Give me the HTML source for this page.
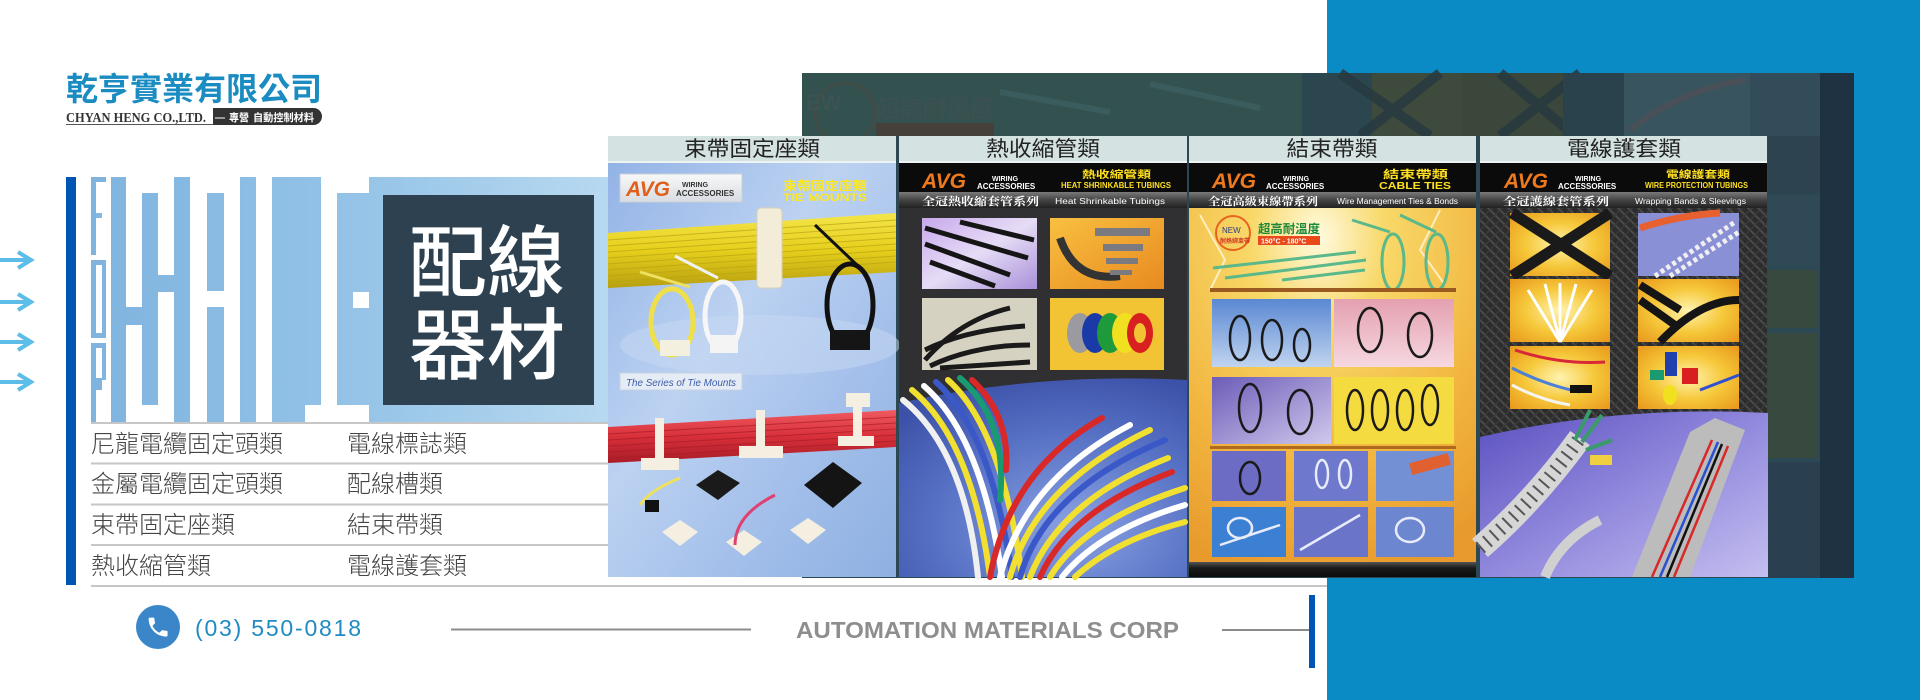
<!DOCTYPE html>
<html><head><meta charset="utf-8">
<style>
html,body{margin:0;padding:0;background:#fff;width:1920px;height:700px;overflow:hidden}
svg{display:block}
text{font-family:"Liberation Sans","Noto Sans CJK TC",sans-serif}
.sf{font-family:"Liberation Serif","Noto Serif CJK SC",serif}
</style></head><body>
<svg width="1920" height="700" viewBox="0 0 1920 700" xmlns="http://www.w3.org/2000/svg">
<defs>
<linearGradient id="gPat" x1="0" y1="0" x2="1" y2="0">
 <stop offset="0" stop-color="#7fb4df"/><stop offset="0.5" stop-color="#94c3e7"/><stop offset="1" stop-color="#b7d9f0"/>
</linearGradient>
<linearGradient id="gP1" x1="0" y1="0" x2="1" y2="1">
 <stop offset="0" stop-color="#93b3e6"/><stop offset="0.4" stop-color="#bcd2f1"/><stop offset="0.7" stop-color="#a3bfea"/><stop offset="1" stop-color="#8eb0e2"/>
</linearGradient>
<linearGradient id="gYel" x1="0" y1="0" x2="0" y2="1">
 <stop offset="0" stop-color="#f4e64a"/><stop offset="0.5" stop-color="#e6cf1c"/><stop offset="1" stop-color="#b8a010"/>
</linearGradient>
<linearGradient id="gRed" x1="0" y1="0" x2="0" y2="1">
 <stop offset="0" stop-color="#f05a60"/><stop offset="0.5" stop-color="#d8303a"/><stop offset="1" stop-color="#a81c26"/>
</linearGradient>
<linearGradient id="gBar" x1="0" y1="0" x2="0" y2="1">
 <stop offset="0" stop-color="#7a7a7a"/><stop offset="0.5" stop-color="#444"/><stop offset="1" stop-color="#222"/>
</linearGradient>
<linearGradient id="gDark" x1="0" y1="0" x2="0" y2="1">
 <stop offset="0" stop-color="#555"/><stop offset="0.4" stop-color="#1a1a1a"/><stop offset="1" stop-color="#0c0c0c"/>
</linearGradient>
<radialGradient id="gBlue" cx="0.6" cy="0.75" r="0.8">
 <stop offset="0" stop-color="#8aa2e2"/><stop offset="0.6" stop-color="#5670c4"/><stop offset="1" stop-color="#3c52a8"/>
</radialGradient>
<radialGradient id="gP3" cx="0.45" cy="0.08" r="0.95">
 <stop offset="0" stop-color="#fffbe0"/><stop offset="0.25" stop-color="#f8d868"/><stop offset="0.65" stop-color="#f2b640"/><stop offset="1" stop-color="#e89a2c"/>
</radialGradient>
<radialGradient id="gYi" cx="0.5" cy="0.5" r="0.7">
 <stop offset="0" stop-color="#fff3b0"/><stop offset="0.5" stop-color="#f6c83a"/><stop offset="1" stop-color="#e8981c"/>
</radialGradient>
<linearGradient id="gPur" x1="0" y1="0" x2="1" y2="1">
 <stop offset="0" stop-color="#5a50c0"/><stop offset="0.5" stop-color="#9088dc"/><stop offset="1" stop-color="#c4bef0"/>
</linearGradient>
<linearGradient id="gLil" x1="0" y1="0" x2="1" y2="1">
 <stop offset="0" stop-color="#c8a8ec"/><stop offset="0.5" stop-color="#e6dcf6"/><stop offset="1" stop-color="#a890d8"/>
</linearGradient>
<linearGradient id="gOr" x1="0" y1="0" x2="1" y2="1">
 <stop offset="0" stop-color="#f8c040"/><stop offset="1" stop-color="#e88a20"/>
</linearGradient>
<linearGradient id="gBi" x1="0" y1="0" x2="0" y2="1">
 <stop offset="0" stop-color="#5a88d2"/><stop offset="1" stop-color="#c0d4f0"/>
</linearGradient>
<linearGradient id="gPk" x1="0" y1="0" x2="0" y2="1">
 <stop offset="0" stop-color="#e4a0b0"/><stop offset="1" stop-color="#f6d8e0"/>
</linearGradient>
<linearGradient id="gPi" x1="0" y1="0" x2="1" y2="1">
 <stop offset="0" stop-color="#6c5cb8"/><stop offset="1" stop-color="#d0c8ec"/>
</linearGradient>
<linearGradient id="gAvg" x1="0" y1="0" x2="0" y2="1">
 <stop offset="0" stop-color="#f8f8f8"/><stop offset="1" stop-color="#d8dde2"/>
</linearGradient>
<pattern id="braid" width="10" height="10" patternUnits="userSpaceOnUse">
 <rect width="10" height="10" fill="#2c2c2c"/>
 <path d="M0,0 L10,10 M-5,5 L5,15 M5,-5 L15,5" stroke="#4a4a4a" stroke-width="2"/>
 <path d="M10,0 L0,10" stroke="#3a3a3a" stroke-width="1.5"/>
</pattern>
</defs>

<!-- right blue block -->
<rect x="1327" y="0" width="593" height="700" fill="#0a8bc5"/>

<!-- dark blurred strip -->
<rect x="802" y="73" width="1052" height="505" fill="#2c4852"/>
<rect x="802" y="73" width="500" height="63" fill="#33514f"/>
<circle cx="845" cy="113" r="30" stroke="#4e4a42" stroke-width="3" fill="none" opacity="0.6"/>
<text x="806" y="110" font-size="22" fill="#3c5353" font-weight="bold">EW</text>
<text x="876" y="117" font-size="24" fill="#3b5151" font-weight="bold" textLength="118" lengthAdjust="spacingAndGlyphs">超高耐溫度</text>
<rect x="876" y="123" width="118" height="13" fill="#45403a"/>
<path d="M1000,92 L1110,112 M1150,84 L1260,108" stroke="#3a5c5c" stroke-width="6" fill="none"/>
<rect x="1302" y="73" width="70" height="63" fill="#2c4650"/>
<rect x="1372" y="73" width="90" height="63" fill="#3e4a3c"/>
<rect x="1462" y="73" width="101" height="63" fill="#3b473a"/>
<path d="M1340,73 L1430,136 M1440,73 L1360,136 M1500,73 L1575,136 M1580,73 L1500,136" stroke="#27393f" stroke-width="10" fill="none" opacity="0.85"/>
<rect x="1563" y="73" width="61" height="63" fill="#2a424c"/>
<rect x="1624" y="73" width="126" height="63" fill="#38545f"/>
<path d="M1630,130 Q1680,90 1745,80" stroke="#4a5058" stroke-width="6" fill="none"/>
<rect x="1750" y="73" width="70" height="63" fill="#324c5a"/>
<rect x="1820" y="73" width="34" height="505" fill="#1f3242"/>
<rect x="1768" y="136" width="52" height="58" fill="#2d4450"/>
<rect x="1768" y="196" width="52" height="70" fill="#2f4a56"/>
<rect x="1768" y="270" width="50" height="58" fill="#38493f"/>
<rect x="1768" y="333" width="50" height="125" fill="#38493f"/>
<rect x="1768" y="462" width="52" height="116" fill="#2a4050"/>

<!-- left pattern block -->
<rect x="66" y="177" width="10" height="408" fill="#0055b4"/>
<rect x="91" y="177" width="517" height="245" fill="url(#gPat)"/>
<g fill="#ffffff">
 <rect x="96" y="182" width="10" height="73"/>
 <rect x="91" y="255" width="15" height="5"/>
 <rect x="96" y="265" width="6" height="68"/>
 <rect x="91" y="338" width="15" height="5"/>
 <rect x="96" y="348" width="6" height="30"/>
 <rect x="96" y="390" width="6" height="32"/>
 <rect x="102" y="380" width="4" height="42"/>
 <rect x="106" y="177" width="5" height="245"/>
 <rect x="126" y="177" width="16" height="130"/>
 <rect x="126" y="325" width="16" height="97"/>
 <rect x="142" y="177" width="16" height="16"/>
 <rect x="142" y="405" width="16" height="17"/>
 <rect x="158" y="177" width="16" height="98"/>
 <rect x="158" y="292" width="16" height="130"/>
 <rect x="190" y="177" width="17" height="245"/>
 <rect x="207" y="177" width="17" height="16"/>
 <rect x="207" y="291" width="17" height="16"/>
 <rect x="224" y="177" width="16" height="245"/>
 <rect x="256" y="177" width="16" height="245"/>
 <rect x="305" y="405" width="16" height="17"/>
 <rect x="321" y="177" width="16" height="245"/>
 <rect x="337" y="177" width="32" height="16"/>
 <rect x="353" y="292" width="16" height="16"/>
 <rect x="337" y="405" width="32" height="17"/>
</g>
<rect x="96" y="213" width="6" height="5" fill="#85b7e0"/>

<!-- dark title box -->
<rect x="383" y="195" width="211" height="210" fill="#2d4150"/>
<text x="409" y="290" font-size="78" fill="#ffffff" font-weight="500">配線</text>
<text x="409" y="373" font-size="78" fill="#ffffff" font-weight="500">器材</text>

<!-- logo -->
<text x="66" y="100" font-size="32" font-weight="bold" fill="#1a8cc1" textLength="256" lengthAdjust="spacingAndGlyphs">乾亨實業有限公司</text>
<text class="sf" x="66" y="122" font-size="14" font-weight="bold" fill="#333" textLength="140" lengthAdjust="spacingAndGlyphs">CHYAN HENG CO.,LTD.</text>
<line x1="66" y1="124.5" x2="214" y2="124.5" stroke="#555" stroke-width="1"/>
<path d="M213,108 H313.5 A8.5,8.5 0 0 1 313.5,125 H213 Z" fill="#333"/>
<text x="215" y="120.5" font-size="10" fill="#fff" font-weight="bold">—</text>
<text x="229" y="121" font-size="10.5" fill="#fff" font-weight="bold" textLength="20" lengthAdjust="spacingAndGlyphs">專營</text>
<text x="253" y="121" font-size="10.5" fill="#fff" font-weight="bold" textLength="61" lengthAdjust="spacingAndGlyphs">自動控制材料</text>

<!-- arrows -->
<g stroke="#5cbde8" stroke-width="4" fill="none">
 <path d="M0,260 H30 M18,252 L31,260 L18,268"/>
 <path d="M0,302 H30 M18,294 L31,302 L18,310"/>
 <path d="M0,342 H30 M18,334 L31,342 L18,350"/>
 <path d="M0,382 H30 M18,374 L31,382 L18,390"/>
</g>

<!-- list -->
<g stroke="#c6c6c6" stroke-width="2">
 <line x1="91" y1="423" x2="608" y2="423"/>
 <line x1="91" y1="463.5" x2="608" y2="463.5"/>
 <line x1="91" y1="504.5" x2="608" y2="504.5"/>
 <line x1="91" y1="545" x2="608" y2="545"/>
 <line x1="91" y1="586" x2="1327" y2="586"/>
</g>
<g font-size="24" fill="#444" font-weight="300">
 <text x="91" y="452">尼龍電纜固定頭類</text>
 <text x="347" y="452">電線標誌類</text>
 <text x="91" y="492">金屬電纜固定頭類</text>
 <text x="347" y="492">配線槽類</text>
 <text x="91" y="533">束帶固定座類</text>
 <text x="347" y="533">結束帶類</text>
 <text x="91" y="574">熱收縮管類</text>
 <text x="347" y="574">電線護套類</text>
</g>

<!-- ===== PANEL 1 ===== -->
<rect x="608" y="136" width="288" height="25" fill="#d5e2e2"/>
<rect x="608" y="161" width="288" height="2" fill="#eef3f3"/>
<text x="752" y="156" font-size="21" fill="#222" text-anchor="middle" textLength="136" lengthAdjust="spacingAndGlyphs">束帶固定座類</text>
<rect x="608" y="163" width="288" height="414" fill="url(#gP1)"/>
<ellipse cx="760" cy="345" rx="140" ry="30" fill="#c8d9f3" opacity="0.5"/>
<rect x="620" y="174" width="122" height="28" fill="url(#gAvg)" stroke="#c8d0d8"/>
<text x="626" y="196" font-size="21" font-weight="bold" font-style="italic" fill="#e0601a">AVG</text>
<text x="682" y="187" font-size="7" font-weight="bold" fill="#333">WIRING</text>
<text x="676" y="196" font-size="8" font-weight="bold" fill="#333">ACCESSORIES</text>
<text x="783" y="190" font-size="12" font-weight="bold" fill="#ffe81a" textLength="84" lengthAdjust="spacingAndGlyphs">束帶固定座類</text>
<text x="783" y="201" font-size="11" font-weight="bold" fill="#ffe81a" textLength="84" lengthAdjust="spacingAndGlyphs">TIE  MOUNTS</text>
<polygon points="608,233 896,213 896,272 608,288" fill="url(#gYel)"/>
<g stroke="#b8a412" stroke-width="1" opacity="0.7">
 <line x1="608" y1="240" x2="896" y2="220"/><line x1="608" y1="246" x2="896" y2="226"/>
 <line x1="608" y1="252" x2="896" y2="232"/><line x1="608" y1="258" x2="896" y2="238"/>
 <line x1="608" y1="264" x2="896" y2="244"/><line x1="608" y1="270" x2="896" y2="250"/>
 <line x1="608" y1="276" x2="896" y2="256"/><line x1="608" y1="282" x2="896" y2="262"/>
</g>
<rect x="757" y="208" width="25" height="80" rx="4" fill="#f2ecd8" stroke="#d8d0b8"/>
<path d="M640,272 L690,287" stroke="#eee060" stroke-width="3"/>
<ellipse cx="672" cy="322" rx="21" ry="33" stroke="#efe04a" stroke-width="5" fill="none"/>
<rect x="660" y="340" width="30" height="16" fill="#f4f0e0"/>
<path d="M675,256 L718,278" stroke="#f0f0f0" stroke-width="3"/>
<ellipse cx="723" cy="316" rx="18" ry="34" stroke="#f6f6f6" stroke-width="5" fill="none"/>
<rect x="710" y="335" width="28" height="18" fill="#f4f4f4"/>
<path d="M815,225 L857,265" stroke="#111" stroke-width="3"/>
<ellipse cx="850" cy="305" rx="23" ry="41" stroke="#111" stroke-width="5" fill="none"/>
<rect x="830" y="330" width="40" height="20" fill="#151515"/>
<rect x="620" y="373" width="122" height="17" fill="#e6ecf5" stroke="#c8d2e2"/>
<text x="626" y="386" font-size="10" font-style="italic" fill="#3c5ca8" textLength="110" lengthAdjust="spacingAndGlyphs">The Series of Tie Mounts</text>
<polygon points="608,427 896,410 896,447 608,463" fill="url(#gRed)"/>
<g stroke="#a81c26" stroke-width="1" opacity="0.7">
 <line x1="608" y1="434" x2="896" y2="417"/><line x1="608" y1="440" x2="896" y2="423"/>
 <line x1="608" y1="446" x2="896" y2="429"/><line x1="608" y1="452" x2="896" y2="435"/>
 <line x1="608" y1="458" x2="896" y2="441"/>
</g>
<g fill="#f4efe0">
 <rect x="655" y="418" width="9" height="48"/><rect x="641" y="458" width="38" height="12"/>
 <rect x="756" y="410" width="9" height="46"/><rect x="739" y="446" width="44" height="12"/>
 <rect x="853" y="400" width="9" height="44"/><rect x="846" y="393" width="24" height="14"/><rect x="838" y="436" width="36" height="10"/>
 <polygon points="680,520 698,532 680,546 662,532"/>
 <polygon points="744,530 762,542 744,556 726,542"/>
 <polygon points="808,518 826,530 808,544 790,530"/>
</g>
<polygon points="718,470 740,483 718,500 696,485" fill="#1a1a1a"/>
<polygon points="833,462 862,483 833,508 804,485" fill="#141414"/>
<path d="M640,505 Q650,490 680,478" stroke="#eee060" stroke-width="3" fill="none"/>
<rect x="645" y="500" width="14" height="12" fill="#111"/>
<path d="M735,545 Q735,515 775,495" stroke="#e04070" stroke-width="3" fill="none"/>

<!-- ===== PANEL 2 ===== -->
<rect x="899" y="136" width="288" height="25" fill="#d5e2e2"/>
<rect x="899" y="161" width="288" height="2" fill="#eef3f3"/>
<text x="1043" y="156" font-size="21" fill="#222" text-anchor="middle" textLength="114" lengthAdjust="spacingAndGlyphs">熱收縮管類</text>
<rect x="899" y="163" width="288" height="29" fill="#0b0b0b"/>
<rect x="899" y="192" width="288" height="16" fill="url(#gBar)"/>
<text x="922" y="188" font-size="21" font-weight="bold" font-style="italic" fill="#ef7a1e">AVG</text>
<text x="992" y="181" font-size="7" font-weight="bold" fill="#fff">WIRING</text>
<text x="977" y="189" font-size="8" font-weight="bold" fill="#fff">ACCESSORIES</text>
<text x="1082" y="178" font-size="10" font-weight="bold" fill="#ffe020" textLength="69" lengthAdjust="spacingAndGlyphs">熱收縮管類</text>
<text x="1061" y="188" font-size="8" font-weight="bold" fill="#ffe020" textLength="110" lengthAdjust="spacingAndGlyphs">HEAT SHRINKABLE TUBINGS</text>
<text class="sf" x="922" y="205" font-size="11" font-weight="bold" fill="#fff" textLength="117" lengthAdjust="spacingAndGlyphs">全冠熱收縮套管系列</text>
<text x="1055" y="204" font-size="8" fill="#fff" textLength="110" lengthAdjust="spacingAndGlyphs">Heat Shrinkable Tubings</text>
<rect x="899" y="208" width="288" height="369" fill="#303032"/>
<rect x="922" y="218" width="115" height="71" fill="url(#gLil)"/>
<g stroke="#151515" stroke-width="5">
 <line x1="925" y1="228" x2="1028" y2="258"/><line x1="925" y1="244" x2="1010" y2="275"/>
 <line x1="930" y1="262" x2="995" y2="286"/><line x1="960" y1="222" x2="1034" y2="240"/>
</g>
<rect x="1050" y="218" width="114" height="71" fill="url(#gOr)"/>
<path d="M1060,238 Q1075,282 1120,276" stroke="#333" stroke-width="8" fill="none"/>
<g fill="#7a7a80"><rect x="1095" y="228" width="55" height="8"/><rect x="1103" y="244" width="40" height="7"/><rect x="1106" y="258" width="32" height="6"/><rect x="1110" y="270" width="22" height="5"/></g>
<rect x="922" y="298" width="115" height="72" fill="#d6d2c2"/>
<g stroke="#1a1a1a" stroke-width="5" fill="none">
 <path d="M925,360 Q960,320 1010,308"/><path d="M925,350 Q965,330 1025,326"/><path d="M930,366 Q975,345 1030,345"/><path d="M940,368 L1030,362"/>
</g>
<rect x="1050" y="298" width="114" height="72" fill="#f2c434"/>
<ellipse cx="1080" cy="333" rx="13" ry="20" fill="#9a9aa0"/>
<ellipse cx="1095" cy="333" rx="13" ry="20" fill="#1a3aa8"/>
<ellipse cx="1110" cy="333" rx="13" ry="20" fill="#1e9a3a"/>
<ellipse cx="1125" cy="333" rx="13" ry="20" fill="#f0e020"/>
<ellipse cx="1140" cy="333" rx="13" ry="20" fill="#d82020"/>
<ellipse cx="1140" cy="333" rx="6" ry="10" fill="#f2c434"/>
<path d="M899,403 Q1040,372 1187,380 L1187,577 L899,577 Z" fill="url(#gBlue)"/>
<g fill="none" stroke-width="6" stroke-linecap="round">
 <path d="M903,400 Q965,450 978,577" stroke="#f0f0f0"/>
 <path d="M912,390 Q972,440 990,577" stroke="#f2e030"/>
 <path d="M924,386 Q982,436 1002,577" stroke="#ffffff"/>
 <path d="M936,382 Q992,432 1012,577" stroke="#3a58c8"/>
 <path d="M948,380 Q1002,428 1022,577" stroke="#f2e030"/>
 <path d="M960,378 Q1008,420 1000,500" stroke="#1a9a70"/>
 <path d="M972,380 Q1010,415 1006,470" stroke="#d82828"/>
 <path d="M990,577 Q1010,470 1102,418" stroke="#d82828"/>
 <path d="M1000,577 Q1025,480 1130,425" stroke="#ffffff"/>
 <path d="M1010,577 Q1035,485 1150,430" stroke="#f2e030"/>
 <path d="M1020,577 Q1045,490 1165,440" stroke="#3a58c8"/>
 <path d="M1030,577 Q1060,500 1168,458" stroke="#f2e030"/>
 <path d="M1040,577 Q1070,510 1172,472" stroke="#d82828"/>
 <path d="M1050,577 Q1085,520 1185,488" stroke="#f2e030"/>
 <path d="M1062,577 Q1100,530 1185,505" stroke="#ffffff"/>
 <path d="M1075,577 Q1115,540 1185,522" stroke="#f2e030"/>
</g>

<!-- ===== PANEL 3 ===== -->
<rect x="1189" y="136" width="287" height="25" fill="#d5e2e2"/>
<rect x="1189" y="161" width="287" height="2" fill="#eef3f3"/>
<text x="1332" y="156" font-size="21" fill="#222" text-anchor="middle" textLength="91" lengthAdjust="spacingAndGlyphs">結束帶類</text>
<rect x="1189" y="163" width="287" height="29" fill="#0b0b0b"/>
<rect x="1189" y="192" width="287" height="16" fill="url(#gBar)"/>
<text x="1212" y="188" font-size="21" font-weight="bold" font-style="italic" fill="#ef7a1e">AVG</text>
<text x="1283" y="181" font-size="7" font-weight="bold" fill="#fff">WIRING</text>
<text x="1266" y="189" font-size="8" font-weight="bold" fill="#fff">ACCESSORIES</text>
<text x="1383" y="178" font-size="11" font-weight="bold" fill="#ffe020" textLength="65" lengthAdjust="spacingAndGlyphs">結束帶類</text>
<text x="1379" y="189" font-size="10" font-weight="bold" fill="#ffe020" textLength="72" lengthAdjust="spacingAndGlyphs">CABLE TIES</text>
<text class="sf" x="1208" y="205" font-size="11" font-weight="bold" fill="#fff" textLength="110" lengthAdjust="spacingAndGlyphs">全冠高級束線帶系列</text>
<text x="1337" y="204" font-size="8" fill="#fff" textLength="121" lengthAdjust="spacingAndGlyphs">Wire Management Ties &amp; Bonds</text>
<rect x="1189" y="208" width="287" height="369" fill="url(#gP3)"/>
<path d="M1200,215 L1225,260 L1210,290 M1440,210 L1420,250 L1445,285" stroke="#fff8d8" stroke-width="2" fill="none" opacity="0.8"/>
<circle cx="1233" cy="233" r="17" stroke="#e8641e" stroke-width="2" fill="none"/>
<text x="1222" y="233" font-size="8" fill="#2a3a80">NEW</text>
<text x="1220" y="243" font-size="6" fill="#d03020" font-weight="bold">耐熱綁束帶</text>
<text x="1258" y="233" font-size="12" font-weight="bold" fill="#1a8a3a" textLength="62" lengthAdjust="spacingAndGlyphs">超高耐溫度</text>
<rect x="1258" y="236" width="62" height="9" fill="#e84a1a"/>
<text x="1261" y="243.5" font-size="7" fill="#fff" font-weight="bold">150°C - 180°C</text>
<g stroke="#5ab88a" stroke-width="3" fill="none">
 <line x1="1213" y1="268" x2="1356" y2="252"/>
 <line x1="1225" y1="278" x2="1366" y2="260"/>
 <line x1="1282" y1="280" x2="1365" y2="270"/>
 <path d="M1352,220 L1390,232"/><path d="M1400,215 L1436,232"/>
</g>
<ellipse cx="1393" cy="262" rx="11" ry="28" stroke="#5ab88a" stroke-width="3" fill="none"/>
<ellipse cx="1437" cy="262" rx="11" ry="28" stroke="#5ab88a" stroke-width="3" fill="none"/>
<rect x="1210" y="288" width="246" height="4" fill="#9a5a20"/>
<rect x="1212" y="299" width="119" height="68" fill="url(#gBi)"/>
<rect x="1334" y="299" width="120" height="68" fill="url(#gPk)"/>
<rect x="1212" y="377" width="119" height="67" fill="url(#gPi)"/>
<rect x="1334" y="377" width="120" height="67" fill="#f4dc40"/>
<rect x="1210" y="446" width="246" height="3" fill="#b06a20"/>
<rect x="1212" y="451" width="74" height="50" fill="#6c6cc4"/>
<rect x="1294" y="451" width="74" height="50" fill="#6e78cc"/>
<rect x="1376" y="451" width="78" height="50" fill="#7490d4"/>
<rect x="1212" y="507" width="74" height="50" fill="#3c80d4"/>
<rect x="1294" y="507" width="74" height="50" fill="#6a74c8"/>
<rect x="1376" y="507" width="78" height="50" fill="#6c86d0"/>
<g stroke="#1a1a1a" stroke-width="2.5" fill="none">
 <ellipse cx="1240" cy="338" rx="10" ry="22"/><ellipse cx="1272" cy="340" rx="10" ry="20"/><ellipse cx="1302" cy="345" rx="8" ry="16"/>
 <ellipse cx="1370" cy="330" rx="12" ry="22"/><ellipse cx="1420" cy="335" rx="12" ry="22"/>
 <ellipse cx="1250" cy="408" rx="11" ry="24"/><ellipse cx="1300" cy="412" rx="12" ry="22"/>
 <ellipse cx="1355" cy="410" rx="8" ry="20"/><ellipse cx="1380" cy="410" rx="8" ry="20"/><ellipse cx="1405" cy="410" rx="8" ry="20"/><ellipse cx="1430" cy="405" rx="8" ry="20"/>
 <ellipse cx="1250" cy="478" rx="10" ry="16"/>
</g>
<g stroke="#e8ecf8" stroke-width="2.5" fill="none">
 <ellipse cx="1322" cy="474" rx="6" ry="14"/><ellipse cx="1345" cy="474" rx="6" ry="14"/>
 <ellipse cx="1240" cy="528" rx="12" ry="10"/><line x1="1220" y1="545" x2="1280" y2="525"/>
 <line x1="1300" y1="550" x2="1360" y2="515"/><ellipse cx="1410" cy="530" rx="14" ry="12"/>
</g>
<rect x="1410" y="458" width="40" height="12" fill="#e06030" transform="rotate(-15 1430 464)"/>
<rect x="1189" y="562" width="287" height="15" fill="url(#gDark)"/>

<!-- ===== PANEL 4 ===== -->
<rect x="1480" y="136" width="287" height="25" fill="#d5e2e2"/>
<rect x="1480" y="161" width="287" height="2" fill="#eef3f3"/>
<text x="1624" y="156" font-size="21" fill="#222" text-anchor="middle" textLength="114" lengthAdjust="spacingAndGlyphs">電線護套類</text>
<rect x="1480" y="163" width="287" height="29" fill="#0b0b0b"/>
<rect x="1480" y="192" width="287" height="16" fill="url(#gBar)"/>
<text x="1504" y="188" font-size="21" font-weight="bold" font-style="italic" fill="#ef7a1e">AVG</text>
<text x="1575" y="181" font-size="7" font-weight="bold" fill="#fff">WIRING</text>
<text x="1558" y="189" font-size="8" font-weight="bold" fill="#fff">ACCESSORIES</text>
<text x="1666" y="178" font-size="10" font-weight="bold" fill="#ffe020" textLength="64" lengthAdjust="spacingAndGlyphs">電線護套類</text>
<text x="1645" y="188" font-size="8" font-weight="bold" fill="#ffe020" textLength="103" lengthAdjust="spacingAndGlyphs">WIRE PROTECTION TUBINGS</text>
<text class="sf" x="1503" y="205" font-size="11" font-weight="bold" fill="#fff" textLength="106" lengthAdjust="spacingAndGlyphs">全冠護線套管系列</text>
<text x="1635" y="204" font-size="8" fill="#fff" textLength="111" lengthAdjust="spacingAndGlyphs">Wrapping Bands &amp; Sleevings</text>
<rect x="1480" y="208" width="287" height="369" fill="url(#braid)"/>
<rect x="1510" y="213" width="100" height="63" fill="url(#gYi)"/>
<path d="M1512,213 L1610,276 M1610,213 L1512,276" stroke="#1a1a1a" stroke-width="11"/>
<rect x="1638" y="213" width="101" height="63" fill="#8a90d6"/>
<path d="M1640,228 Q1680,215 1720,213" stroke="#e86030" stroke-width="7" fill="none"/>
<path d="M1655,276 L1735,222 M1670,276 L1739,232" stroke="#f0f0f0" stroke-width="5" stroke-dasharray="4 3"/>
<rect x="1510" y="279" width="100" height="63" fill="url(#gYi)"/>
<g stroke="#fff" stroke-width="3"><line x1="1560" y1="342" x2="1528" y2="290"/><line x1="1560" y1="342" x2="1545" y2="284"/><line x1="1560" y1="342" x2="1560" y2="283"/><line x1="1560" y1="342" x2="1576" y2="284"/><line x1="1560" y1="342" x2="1592" y2="290"/></g>
<rect x="1638" y="279" width="101" height="63" fill="url(#gYi)"/>
<path d="M1640,285 L1680,310 M1640,300 L1675,325 M1660,342 Q1700,300 1739,300" stroke="#151515" stroke-width="8" fill="none"/>
<rect x="1510" y="346" width="100" height="63" fill="url(#gYi)"/>
<path d="M1515,350 Q1560,365 1605,362" stroke="#d82838" stroke-width="3" fill="none"/>
<path d="M1512,368 Q1545,385 1580,392" stroke="#4a80d8" stroke-width="3" fill="none"/>
<path d="M1512,385 Q1540,400 1570,405" stroke="#f4f4f4" stroke-width="3" fill="none"/>
<rect x="1570" y="385" width="22" height="8" fill="#111"/>
<rect x="1638" y="346" width="101" height="63" fill="url(#gYi)"/>
<rect x="1665" y="352" width="12" height="24" fill="#2040b0"/>
<rect x="1682" y="368" width="16" height="16" fill="#d82020"/>
<rect x="1650" y="370" width="14" height="10" fill="#1a9a70"/>
<ellipse cx="1670" cy="395" rx="7" ry="10" fill="#f0e020"/>
<path d="M1700,390 L1739,375" stroke="#3050d0" stroke-width="3"/>
<path d="M1480,437 Q1620,405 1768,413 L1768,577 L1480,577 Z" fill="url(#gPur)"/>
<path d="M1480,548 Q1535,500 1580,438" stroke="#d6d6d6" stroke-width="24" fill="none"/>
<path d="M1480,548 Q1535,500 1580,438" stroke="#555" stroke-width="14" fill="none" stroke-dasharray="2 7"/>
<path d="M1575,440 L1590,410 M1582,442 L1602,415 M1586,450 L1612,440" stroke="#3a9a6a" stroke-width="4"/>
<rect x="1590" y="455" width="22" height="10" fill="#f0d040"/>
<polygon points="1632,577 1690,432 1715,418 1745,430 1690,577" fill="#bcbcbc"/>
<g stroke-width="2.5">
 <line x1="1652" y1="577" x2="1712" y2="440" stroke="#d82828"/>
 <line x1="1660" y1="577" x2="1718" y2="442" stroke="#2850d0"/>
 <line x1="1667" y1="577" x2="1722" y2="444" stroke="#111"/>
 <line x1="1674" y1="577" x2="1728" y2="446" stroke="#d82828"/>
</g>
<path d="M1545,577 Q1560,540 1600,520" stroke="#d0d0d0" stroke-width="10" fill="none"/>

<!-- bottom contact row -->
<circle cx="158" cy="627" r="22" fill="#3a86c8"/>
<path transform="translate(145.5,614.5) scale(1.05)" fill="#fff" d="M6.62 10.79c1.44 2.83 3.76 5.14 6.59 6.590l2.2-2.2c.27-.27.67-.36 1.02-.24 1.12.37 2.33.57 3.570.57.55 0 1 .45 1 1V20c0 .55-.45 1-1 1-9.39 0-17-7.61-17-17 0-.55.45-1 1-1h3.5c.55 0 1 .45 1 1 0 1.25.2 2.45.57 3.57.11.35.03.74-.25 1.02l-2.2 2.2z"/>
<text x="195" y="636" font-size="23" fill="#1e8bc3" textLength="166" lengthAdjust="spacing">(03) 550-0818</text>
<line x1="451" y1="629.5" x2="751" y2="629.5" stroke="#8c8c8c" stroke-width="2"/>
<text x="796" y="638" font-size="23.5" font-weight="bold" fill="#8e8e8e" textLength="383" lengthAdjust="spacingAndGlyphs">AUTOMATION MATERIALS CORP</text>
<line x1="1222" y1="630" x2="1310" y2="630" stroke="#8c8c8c" stroke-width="2"/>
<rect x="1309" y="595" width="6" height="73" fill="#0055b4"/>
</svg>
</body></html>
